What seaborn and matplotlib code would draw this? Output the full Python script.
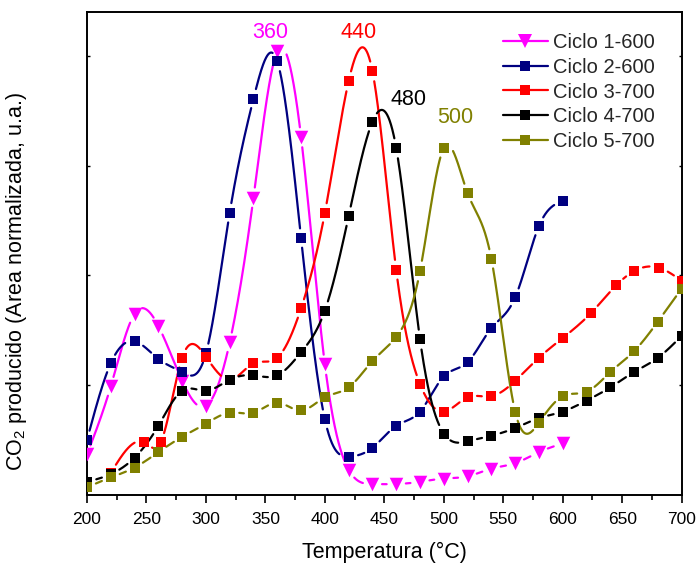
import numpy as np
import pandas as pd
import matplotlib
matplotlib.use('Agg')
import matplotlib.pyplot as plt
from matplotlib.lines import Line2D
from matplotlib.ticker import MultipleLocator
import seaborn as sns

# Temperatures (°C)
temp_600 = [200, 220, 240, 260, 280, 300, 320, 340, 360, 380, 400,
            420, 440, 460, 480, 500, 520, 540, 560, 580, 600]
temp_700 = [200, 220, 240, 260, 280, 300, 320, 340, 360, 380, 400, 420, 440,
            460, 480, 500, 520, 540, 560, 580, 600, 620, 640, 660, 680, 700]
temp_c3 = [220, 248, 262, 280, 300, 320, 340, 360, 380, 400, 420, 440, 460,
           480, 500, 520, 540, 560, 580, 600, 624, 645, 660, 681, 700]

# CO2 signal (normalized area, a.u.)
ciclo1 = [0.37, 0.99, 1.65, 1.54, 1.04, 0.81, 1.39, 2.71, 4.04, 3.26, 1.19,
          0.23, 0.10, 0.10, 0.12, 0.15, 0.17, 0.24, 0.29, 0.39, 0.47]
ciclo2 = [0.50, 1.20, 1.40, 1.24, 1.12, 1.29, 2.57, 3.61, 3.95, 2.34, 0.69,
          0.35, 0.43, 0.63, 0.76, 1.08, 1.21, 1.52, 1.80, 2.45, 2.68]
ciclo3 = [0.20, 0.48, 0.48, 1.25, 1.26, 1.05, 1.20, 1.25, 1.70, 2.57, 3.77, 3.86,
          2.05, 1.01, 0.76, 0.89, 0.90, 1.04, 1.25, 1.43, 1.66, 1.91, 2.04, 2.07, 1.95]
ciclo4 = [0.12, 0.19, 0.34, 0.63, 0.95, 0.95, 1.05, 1.09, 1.09, 1.30, 1.68, 2.54, 3.40,
          3.16, 1.42, 0.56, 0.49, 0.54, 0.61, 0.70, 0.76, 0.86, 0.98, 1.12, 1.25, 1.45]
ciclo5 = [0.07, 0.16, 0.25, 0.39, 0.53, 0.65, 0.75, 0.75, 0.84, 0.77, 0.89, 0.98, 1.22,
          1.44, 2.04, 3.16, 2.75, 2.15, 0.76, 0.66, 0.90, 0.94, 1.12, 1.31, 1.58, 1.88]

labels = ['Ciclo 1-600', 'Ciclo 2-600', 'Ciclo 3-700', 'Ciclo 4-700', 'Ciclo 5-700']
colors = ['#FF00FF', '#000080', '#FF0000', '#000000', '#808000']
markers = ['v', 's', 's', 's', 's']
series = [(temp_600, ciclo1), (temp_600, ciclo2), (temp_c3, ciclo3),
          (temp_700, ciclo4), (temp_700, ciclo5)]

# peak labels
peak_text = ['360', '440', '480', '500']
peak_pos = [(354, 4.21), (428, 4.21), (470, 3.60), (510, 3.44)]
peak_col = ['#FF00FF', '#FF0000', '#000000', '#808000']


def natural_spline(x, y, num=3000):
    # smooth connecting line through the points (natural cubic spline)
    x = np.asarray(x, float)
    y = np.asarray(y, float)
    n = len(x)
    h = np.diff(x)
    A = np.zeros((n, n))
    b = np.zeros(n)
    A[0, 0] = A[-1, -1] = 1
    for i in range(1, n - 1):
        A[i, i - 1] = h[i - 1]
        A[i, i] = 2 * (h[i - 1] + h[i])
        A[i, i + 1] = h[i]
        b[i] = 6 * ((y[i + 1] - y[i]) / h[i] - (y[i] - y[i - 1]) / h[i - 1])
    M = np.linalg.solve(A, b)
    xs = np.linspace(x[0], x[-1], num)
    k = np.clip(np.searchsorted(x, xs) - 1, 0, n - 2)
    t1 = x[k + 1] - xs
    t0 = xs - x[k]
    hk = h[k]
    ys = (M[k] * t1 ** 3 / (6 * hk) + M[k + 1] * t0 ** 3 / (6 * hk)
          + (y[k] / hk - M[k] * hk / 6) * t1 + (y[k + 1] / hk - M[k + 1] * hk / 6) * t0)
    return xs, ys


sns.set_theme(style="ticks")
plt.rcParams['font.family'] = ['Liberation Sans', 'DejaVu Sans']
plt.rcParams['mathtext.fontset'] = 'custom'
plt.rcParams['mathtext.rm'] = 'Liberation Sans'

fig = plt.figure(figsize=(6.97, 5.65), dpi=100)
ax = fig.add_axes([0.1248, 0.1239, 0.8532, 0.8549])
ax.set_xlim(200, 700)
ax.set_ylim(0, 4.4)

for (x, y), lab, c, m in zip(series, labels, colors, markers):
    xs, ys = natural_spline(x, y)
    # leave a gap around each symbol, like the original
    line_px = ax.transData.transform(np.column_stack([xs, ys]))
    pts_px = ax.transData.transform(np.column_stack([x, y]))
    d = np.sqrt(((line_px[:, None, :] - pts_px[None, :, :]) ** 2).sum(-1)).min(1)
    ys = np.where(d < 9.5, np.nan, ys)
    ax.plot(xs, ys, color=c, lw=1.6, zorder=2)
    df = pd.DataFrame({'T': x, 'v': y})
    sns.scatterplot(data=df, x='T', y='v', ax=ax, color=c, marker=m,
                    s=95 if m == 'v' else 55, linewidth=0, zorder=3)

for t, (px, py), c in zip(peak_text, peak_pos, peak_col):
    ax.text(px, py, t, color=c, fontsize=15.5, ha='center', va='center')

handles = [Line2D([], [], color=c, marker=m, lw=1.6,
                  markersize=9.5 if m == 'v' else 7.4, markeredgewidth=0)
           for c, m in zip(colors, markers)]
ax.legend(handles, labels, loc='upper left', bbox_to_anchor=(0.70, 0.956),
          frameon=False, fontsize=14.5, handlelength=2.2, handletextpad=0.25,
          labelspacing=0.28, borderpad=0, borderaxespad=0)

ax.xaxis.set_major_locator(MultipleLocator(50))
ax.xaxis.set_minor_locator(MultipleLocator(25))
ax.set_yticks([1, 2, 3, 4])
ax.set_yticklabels([])
ax.tick_params(axis='x', which='major', direction='out', length=6, width=1.2,
               labelsize=12.5, color='black', labelcolor='black', pad=6)
ax.tick_params(axis='x', which='minor', direction='out', length=3.5, width=1.2,
               color='black')
ax.tick_params(axis='y', which='major', direction='in', length=2.5, width=1.0,
               left=True, right=True, color='black')
for sp in ax.spines.values():
    sp.set_linewidth(1.4)
    sp.set_color('black')

ax.set_xlabel('Temperatura (°C)', fontsize=15.5, labelpad=11, color='black')
ax.set_ylabel('CO$_\\mathregular{2}$ producido (Area normalizada, u.a.)',
              fontsize=15.5, color='black')
ax.yaxis.set_label_coords(-0.097, 0.443)

fig.savefig('out.png', dpi=100)
